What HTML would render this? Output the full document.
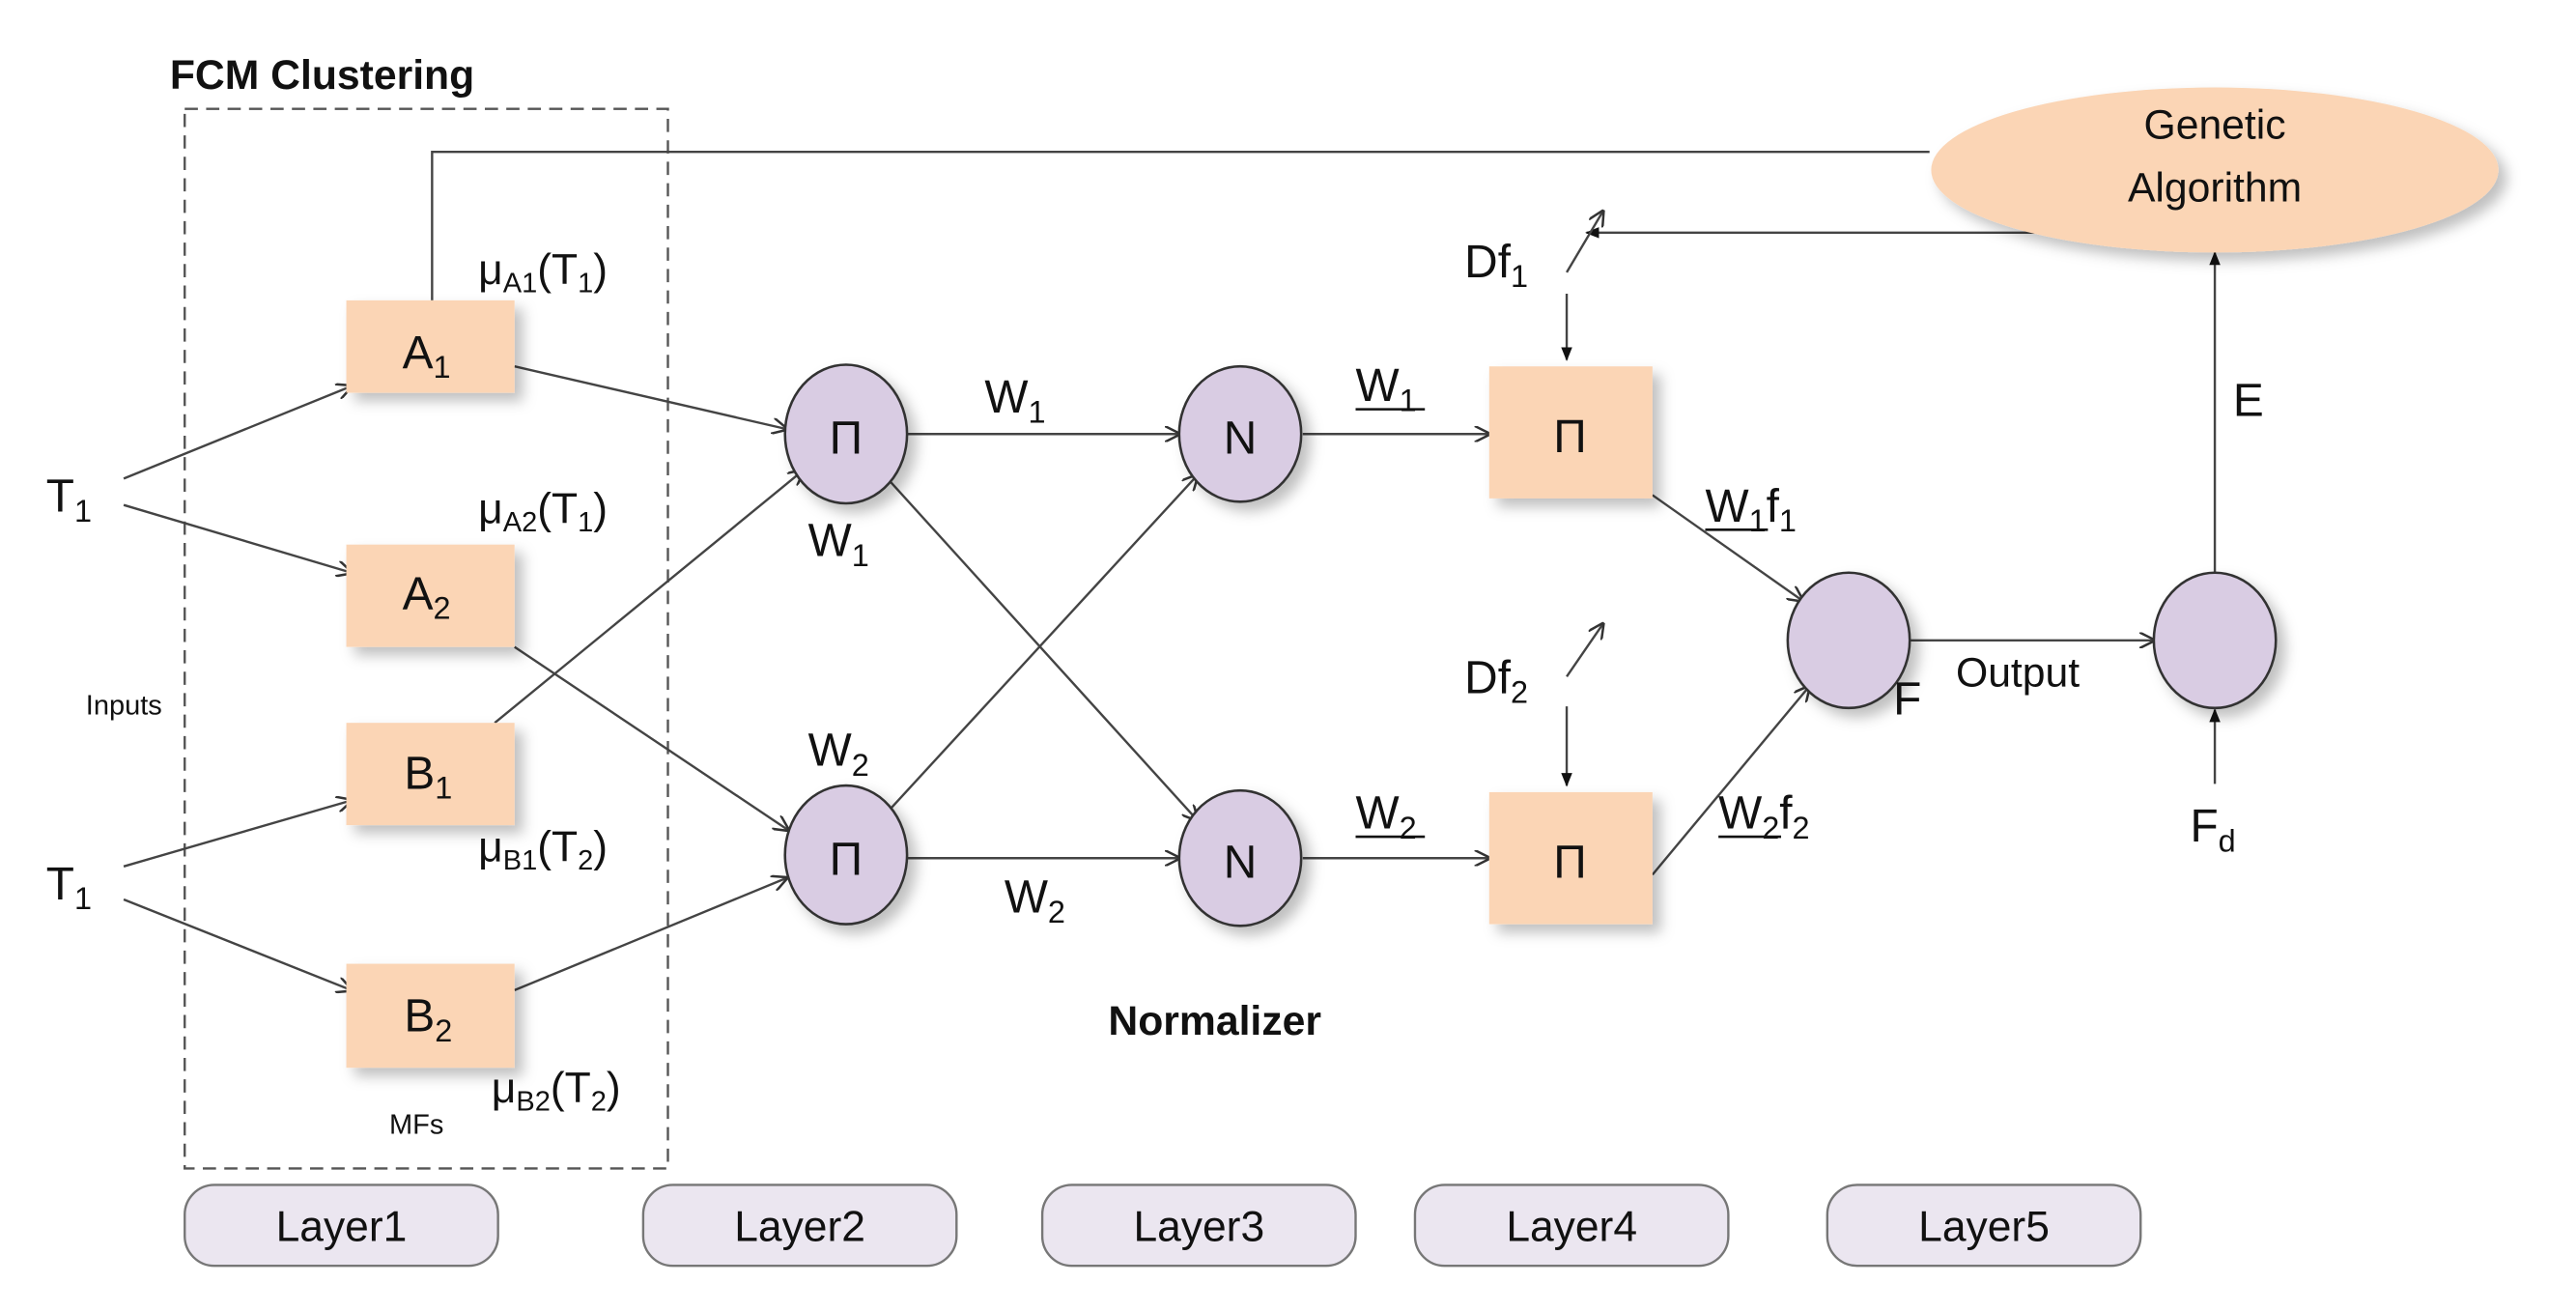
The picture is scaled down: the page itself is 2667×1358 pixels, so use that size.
<!DOCTYPE html>
<html><head><meta charset="utf-8"><style>
html,body{margin:0;padding:0;background:#fff}
svg{display:block}
text{font-family:"Liberation Sans",sans-serif;fill:#111}
</style></head><body>
<svg width="2667" height="1358" viewBox="0 0 1562 795" preserveAspectRatio="none" xmlns="http://www.w3.org/2000/svg">
<defs>
<marker id="a" viewBox="0 0 10 10" refX="9" refY="5" markerWidth="7" markerHeight="7" orient="auto"><path d="M0,0 L10,5 L0,10" fill="none" stroke="#333" stroke-width="1.5"/></marker>
<marker id="f" viewBox="0 0 10 10" refX="9" refY="5" markerWidth="6" markerHeight="6" orient="auto"><path d="M0,1 L10,5 L0,9 z" fill="#111"/></marker>
<filter id="s" x="-20%" y="-20%" width="150%" height="150%"><feDropShadow dx="5" dy="5" stdDeviation="4" flood-color="#000" flood-opacity="0.25"/></filter>
</defs>
<g stroke="#444" stroke-width="1.4" fill="none">
<rect x="112" y="66" width="293" height="642" stroke-dasharray="8,5" stroke="#555"/>
<polyline points="262,182 262,92 1170,92"/>
<line x1="1240" y1="141" x2="962" y2="141" marker-end="url(#f)"/>
<line x1="950" y1="165" x2="972" y2="128" marker-end="url(#a)"/>
<line x1="950" y1="410" x2="972" y2="378" marker-end="url(#a)"/>
<line x1="950" y1="178" x2="950" y2="218" marker-end="url(#f)"/>
<line x1="950" y1="428" x2="950" y2="476" marker-end="url(#f)"/>
<line x1="75" y1="290" x2="213" y2="234" marker-end="url(#a)"/>
<line x1="75" y1="306" x2="213" y2="347" marker-end="url(#a)"/>
<line x1="75" y1="525" x2="213" y2="485" marker-end="url(#a)"/>
<line x1="75" y1="545" x2="213" y2="600" marker-end="url(#a)"/>
<line x1="312" y1="222" x2="477" y2="260" marker-end="url(#a)"/>
<line x1="312" y1="392" x2="478" y2="503" marker-end="url(#a)"/>
<line x1="300" y1="438" x2="487" y2="285" marker-end="url(#a)"/>
<line x1="312" y1="600" x2="477" y2="532" marker-end="url(#a)"/>
<line x1="550" y1="263" x2="715" y2="263" marker-end="url(#a)"/>
<line x1="550" y1="520" x2="715" y2="520" marker-end="url(#a)"/>
<line x1="540" y1="292" x2="726" y2="497" marker-end="url(#a)"/>
<line x1="540" y1="490" x2="726" y2="288" marker-end="url(#a)"/>
<line x1="790" y1="263" x2="903" y2="263" marker-end="url(#a)"/>
<line x1="790" y1="520" x2="903" y2="520" marker-end="url(#a)"/>
<line x1="1002" y1="300" x2="1093" y2="364" marker-end="url(#a)"/>
<line x1="1002" y1="530" x2="1097" y2="416" marker-end="url(#a)"/>
<line x1="1158" y1="388" x2="1306" y2="388" marker-end="url(#a)"/>
<line x1="1343" y1="347" x2="1343" y2="153" marker-end="url(#f)"/>
<line x1="1343" y1="475" x2="1343" y2="430" marker-end="url(#f)"/>
</g>
<g fill="#fbd5b5" filter="url(#s)">
<rect x="210" y="182" width="102" height="56"/>
<rect x="210" y="330" width="102" height="62"/>
<rect x="210" y="438" width="102" height="62"/>
<rect x="210" y="584" width="102" height="63"/>
<rect x="903" y="222" width="99" height="80"/>
<rect x="903" y="480" width="99" height="80"/>
<ellipse cx="1343" cy="103" rx="172" ry="50"/>
</g>
<g fill="#d9cce3" stroke="#333" stroke-width="1.5" filter="url(#s)">
<ellipse cx="513" cy="263" rx="37" ry="42"/>
<ellipse cx="513" cy="518" rx="37" ry="42"/>
<ellipse cx="752" cy="263" rx="37" ry="41"/>
<ellipse cx="752" cy="520" rx="37" ry="41"/>
<ellipse cx="1121" cy="388" rx="37" ry="41"/>
<ellipse cx="1343" cy="388" rx="37" ry="41"/>
</g>
<g fill="#ebe6f0" stroke="#777" stroke-width="1.4">
<rect x="112" y="718" width="190" height="49" rx="18"/>
<rect x="390" y="718" width="190" height="49" rx="18"/>
<rect x="632" y="718" width="190" height="49" rx="18"/>
<rect x="858" y="718" width="190" height="49" rx="18"/>
<rect x="1108" y="718" width="190" height="49" rx="18"/>
</g>
<g font-size="26" text-anchor="middle">
<text x="207" y="752">Layer1</text><text x="485" y="752">Layer2</text><text x="727" y="752">Layer3</text><text x="953" y="752">Layer4</text><text x="1203" y="752">Layer5</text>
<text x="1343" y="84" font-size="25">Genetic</text><text x="1343" y="122" font-size="25">Algorithm</text>
<text x="513" y="275" font-size="28">Π</text><text x="513" y="530" font-size="28">Π</text>
<text x="752" y="275" font-size="28">N</text><text x="752" y="532" font-size="28">N</text>
<text x="952" y="274" font-size="28">Π</text><text x="952" y="532" font-size="28">Π</text>
</g>
<g font-size="28">
<text x="103" y="54" font-weight="bold" font-size="25">FCM Clustering</text>
<text x="672" y="627" font-weight="bold" font-size="25">Normalizer</text>
<text x="28" y="310">T<tspan font-size="19" dy="6">1</tspan></text>
<text x="28" y="545">T<tspan font-size="19" dy="6">1</tspan></text>
<text x="244" y="223">A<tspan font-size="19" dy="6">1</tspan></text>
<text x="244" y="369">A<tspan font-size="19" dy="6">2</tspan></text>
<text x="245" y="478">B<tspan font-size="19" dy="6">1</tspan></text>
<text x="245" y="625">B<tspan font-size="19" dy="6">2</tspan></text>
<text x="290" y="172" font-size="26">μ<tspan font-size="17" dy="5">A1</tspan><tspan dy="-5">(T</tspan><tspan font-size="17" dy="5">1</tspan><tspan dy="-5">)</tspan></text>
<text x="290" y="317" font-size="26">μ<tspan font-size="17" dy="5">A2</tspan><tspan dy="-5">(T</tspan><tspan font-size="17" dy="5">1</tspan><tspan dy="-5">)</tspan></text>
<text x="290" y="522" font-size="26">μ<tspan font-size="17" dy="5">B1</tspan><tspan dy="-5">(T</tspan><tspan font-size="17" dy="5">2</tspan><tspan dy="-5">)</tspan></text>
<text x="298" y="668" font-size="26">μ<tspan font-size="17" dy="5">B2</tspan><tspan dy="-5">(T</tspan><tspan font-size="17" dy="5">2</tspan><tspan dy="-5">)</tspan></text>
<text x="236" y="687" font-size="17">MFs</text>
<text x="52" y="433" font-size="17">Inputs</text>
<text x="597" y="250">W<tspan font-size="19" dy="6">1</tspan></text>
<text x="490" y="337">W<tspan font-size="19" dy="6">1</tspan></text>
<text x="490" y="464">W<tspan font-size="19" dy="6">2</tspan></text>
<text x="609" y="553">W<tspan font-size="19" dy="6">2</tspan></text>
<text x="822" y="243">W<tspan font-size="19" dy="6">1</tspan></text>
<text x="822" y="502">W<tspan font-size="19" dy="6">2</tspan></text>
<text x="1034" y="316">W<tspan font-size="19" dy="6">1</tspan><tspan dy="-6">f</tspan><tspan font-size="19" dy="6">1</tspan></text>
<text x="1042" y="502">W<tspan font-size="19" dy="6">2</tspan><tspan dy="-6">f</tspan><tspan font-size="19" dy="6">2</tspan></text>
<line x1="1034" y1="321" x2="1072" y2="321" stroke="#111" stroke-width="1.5"/>
<line x1="1042" y1="507" x2="1080" y2="507" stroke="#111" stroke-width="1.5"/>
<line x1="822" y1="248" x2="864" y2="248" stroke="#111" stroke-width="1.5"/>
<line x1="822" y1="507" x2="864" y2="507" stroke="#111" stroke-width="1.5"/>
<text x="888" y="168">Df<tspan font-size="19" dy="6">1</tspan></text>
<text x="888" y="420">Df<tspan font-size="19" dy="6">2</tspan></text>
<text x="1148" y="433">F</text>
<text x="1186" y="416" font-size="25">Output</text>
<text x="1354" y="252">E</text>
<text x="1328" y="510">F<tspan font-size="19" dy="6">d</tspan></text>
</g>
</svg>
</body></html>
